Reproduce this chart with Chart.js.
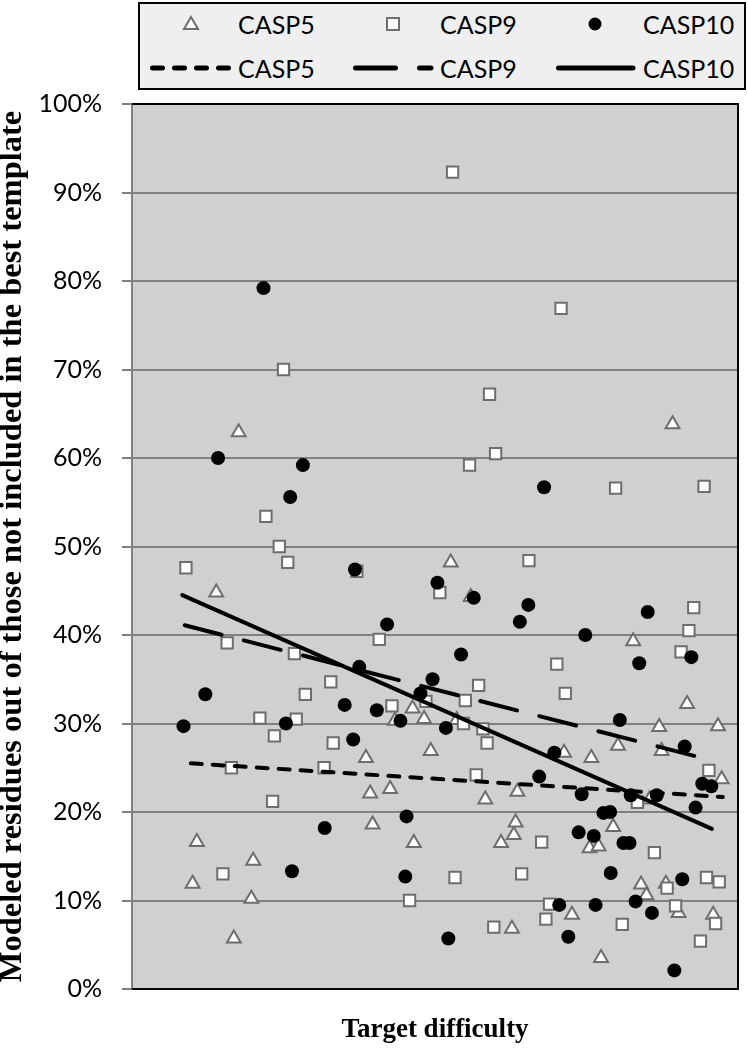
<!DOCTYPE html>
<html lang="en">
<head>
  <meta charset="UTF-8">
  <title>Modeled residues vs target difficulty</title>
  <script src="https://cdn.jsdelivr.net/npm/chart.js"></script>
  <style>
    body { margin: 0; background: #fff; }
    .wrap { position: relative; width: 748px; height: 1050px; }
    canvas { position: absolute; left: 0; top: 0; }
    .legenda {
      position: absolute; left: 138px; top: 2px;
      width: 604px; height: 84px;
      border: 2px solid #000; background: #efefef;
      font-family: Lato, sans-serif; font-size: 25px; color: #000;
    }
    .legenda span { position: absolute; line-height: 30px; white-space: nowrap; }
    .legenda svg { position: absolute; }
  </style>
</head>
<body>
<div class="wrap">
  <canvas id="grafico" width="748" height="1050"></canvas>

  <!-- legenda em HTML, 2 linhas x 3 colunas -->
  <div class="legenda">
    <svg style="left:42px;top:11px" width="18" height="18"><polygon points="9,2 16,14 2,14" fill="#fff" stroke="#6d6d6d" stroke-width="2"/></svg>
    <span style="left:98px;top:5px">CASP5</span>
    <svg style="left:244px;top:11px" width="18" height="18"><rect x="3" y="3" width="12" height="12" fill="#fff" stroke="#6d6d6d" stroke-width="2"/></svg>
    <span style="left:300px;top:5px">CASP9</span>
    <svg style="left:446px;top:11px" width="18" height="18"><circle cx="9" cy="9" r="6.5" fill="#000"/></svg>
    <span style="left:503px;top:5px">CASP10</span>

    <svg style="left:10px;top:59px" width="84" height="10"><line x1="2.5" y1="5" x2="81" y2="5" stroke="#000" stroke-width="5" stroke-linecap="round" stroke-dasharray="10 12"/></svg>
    <span style="left:98px;top:49px">CASP5</span>
    <svg style="left:213px;top:59px" width="84" height="10"><line x1="2.5" y1="5" x2="78" y2="5" stroke="#000" stroke-width="5" stroke-linecap="round" stroke-dasharray="40 24"/></svg>
    <span style="left:300px;top:49px">CASP9</span>
    <svg style="left:416px;top:59px" width="84" height="10"><line x1="2.5" y1="5" x2="77" y2="5" stroke="#000" stroke-width="5" stroke-linecap="round"/></svg>
    <span style="left:503px;top:49px">CASP10</span>
  </div>
</div>

<script>
  // dados (x = posição relativa de dificuldade, y = %)
  const casp5X = [10.0,10.7,13.9,16.8,17.6,19.7,20.0,38.6,39.3,39.7,42.6,43.4,46.3,46.5,48.2,49.3,52.6,53.6,55.9,58.3,60.9,62.7,63.0,63.3,63.6,71.3,72.6,75.5,75.8,77.0,77.4,79.4,80.2,82.7,84.0,84.9,85.4,87.0,87.4,88.1,89.2,90.2,91.6,95.9,96.7,97.3];
  const casp5Y = [11.9,16.6,44.8,5.7,62.9,10.2,14.5,26.1,22.1,18.6,22.6,30.3,31.7,16.5,30.5,26.9,48.2,30.4,44.3,21.4,16.5,6.8,17.4,18.8,22.3,26.7,8.4,15.9,26.1,16.1,3.5,18.3,27.5,39.3,11.8,10.6,21.4,29.6,26.9,11.9,63.8,8.6,32.2,8.4,29.7,23.7];

  const casp9X = [8.9,15.0,15.7,16.4,21.1,22.1,23.2,23.5,24.3,25.0,25.7,26.8,27.1,28.6,31.7,32.8,33.2,37.1,40.8,42.9,45.8,48.5,50.8,52.9,53.3,54.7,55.0,55.7,56.8,57.2,57.9,58.6,59.0,59.7,60.0,64.3,65.5,67.6,68.3,68.9,70.1,70.8,71.5,79.8,80.9,83.4,86.2,88.3,89.7,90.6,91.9,92.7,93.8,94.4,94.8,95.2,96.3,96.9];
  const casp9Y = [47.6,13.0,39.1,25.0,30.6,53.4,21.2,28.6,50.0,70.0,48.2,37.9,30.5,33.3,25.0,34.7,27.8,47.2,39.5,32.0,10.0,32.5,44.8,92.3,12.6,30.0,32.6,59.2,24.2,34.3,29.4,27.8,67.2,7.0,60.5,13.0,48.4,16.6,7.9,9.6,36.7,76.9,33.4,56.6,7.3,21.1,15.4,11.4,9.4,38.1,40.5,43.1,5.4,56.8,12.6,24.7,7.4,12.1];

  const casp10X = [8.5,12.1,14.2,21.7,25.4,26.1,26.4,28.2,31.8,35.1,36.5,36.8,37.5,40.4,42.1,44.3,45.1,45.3,47.6,49.6,50.4,51.8,52.2,54.3,56.4,64.0,65.4,67.2,68.0,69.7,70.5,72.0,73.7,74.2,74.8,76.2,76.5,77.8,78.9,79.0,80.5,81.1,82.1,82.3,83.1,83.7,85.1,85.8,86.6,89.5,90.8,91.2,92.3,93.0,94.1,95.6];
  const casp10Y = [29.7,33.3,60.0,79.2,30.0,55.6,13.3,59.2,18.2,32.1,28.2,47.4,36.4,31.5,41.2,30.3,12.7,19.5,33.4,35.0,45.9,29.5,5.7,37.8,44.2,41.5,43.4,24.0,56.7,26.7,9.5,5.9,17.7,22.0,40.0,17.3,9.5,19.9,20.0,13.1,30.4,16.5,16.5,21.9,9.9,36.8,42.6,8.6,21.9,2.1,12.4,27.4,37.5,20.5,23.2,22.9];

  // linhas de tendência (início e fim)
  const tend5X = [9.7, 97.5],  tend5Y = [25.5, 21.7];
  const tend9X = [8.7, 95.9],  tend9Y = [41.1, 25.8];
  const tend10X = [8.3, 95.7], tend10Y = [44.5, 18.1];

  const rotulosY = ['0%','10%','20%','30%','40%','50%','60%','70%','80%','90%','100%'];

  function pares(xs, ys) {
    return xs.map((x, i) => ({ x: x, y: ys[i] }));
  }

  // fundo cinza e moldura da área do gráfico
  const fundoPlot = {
    id: 'fundoPlot',
    beforeDraw(chart) {
      const { ctx, chartArea: a } = chart;
      ctx.save();
      ctx.fillStyle = '#d0d0d0';
      ctx.fillRect(a.left, a.top, a.right - a.left, a.bottom - a.top);
      ctx.restore();
    },
    beforeDatasetsDraw(chart) {
      const { ctx, chartArea: a } = chart;
      ctx.save();
      ctx.strokeStyle = '#000';
      ctx.lineWidth = 2;
      ctx.beginPath();
      ctx.moveTo(a.left, a.top);
      ctx.lineTo(a.right, a.top);
      ctx.lineTo(a.right, a.bottom);
      ctx.lineTo(a.left, a.bottom);
      ctx.stroke();
      ctx.restore();
    }
  };

  const linha = (xs, ys, dash, ordem) => ({
    label: 'tendencia',
    data: pares(xs, ys),
    showLine: true,
    pointRadius: 0,
    borderColor: '#000',
    borderWidth: 4,
    borderDash: dash,
    borderCapStyle: 'round',
    fill: false,
    order: ordem
  });

  new Chart(document.getElementById('grafico'), {
    type: 'scatter',
    data: {
      datasets: [
        linha(tend10X, tend10Y, [], 0),
        linha(tend9X, tend9Y, [38, 23], 1),
        linha(tend5X, tend5Y, [11, 11], 2),
        {
          label: 'CASP10', data: pares(casp10X, casp10Y),
          pointStyle: 'circle', pointRadius: 7, backgroundColor: '#000', borderWidth: 0, order: 3
        },
        {
          label: 'CASP9', data: pares(casp9X, casp9Y),
          pointStyle: 'rect', pointRadius: 8, backgroundColor: '#fff', borderColor: '#6d6d6d', borderWidth: 2, order: 4
        },
        {
          label: 'CASP5', data: pares(casp5X, casp5Y),
          pointStyle: 'triangle', pointRadius: 8, backgroundColor: '#fff', borderColor: '#6d6d6d', borderWidth: 2, order: 5
        }
      ]
    },
    options: {
      responsive: false,
      animation: false,
      events: [],
      layout: { padding: { top: 104, right: 2, bottom: 0, left: 0 } },
      plugins: { legend: { display: false }, tooltip: { enabled: false } },
      scales: {
        x: {
          type: 'linear', min: 0, max: 100,
          ticks: { display: false },
          grid: { display: false },
          border: { display: false },
          title: {
            display: true, text: 'Target difficulty', color: '#000',
            font: { family: 'Liberation Serif', size: 27, weight: 'bold' },
            padding: { top: 0, bottom: 4 }
          },
          afterFit: s => { s.height = 61; }
        },
        y: {
          min: 0, max: 100,
          ticks: {
            stepSize: 10, color: '#000', padding: 20,
            font: { family: 'Lato', size: 25 },
            callback: (v, i) => rotulosY[i]
          },
          grid: { color: '#808080', lineWidth: 2, tickLength: 10 },
          border: { color: '#808080', width: 2 },
          title: {
            display: true, color: '#000',
            text: 'Modeled residues out of those not included in the best template',
            font: { family: 'Liberation Serif', size: 32.5, weight: 'bold', lineHeight: 0.75 },
            padding: 0
          },
          afterFit: s => { s.width = 132; }
        }
      }
    },
    plugins: [fundoPlot]
  });
</script>
</body>
</html>
